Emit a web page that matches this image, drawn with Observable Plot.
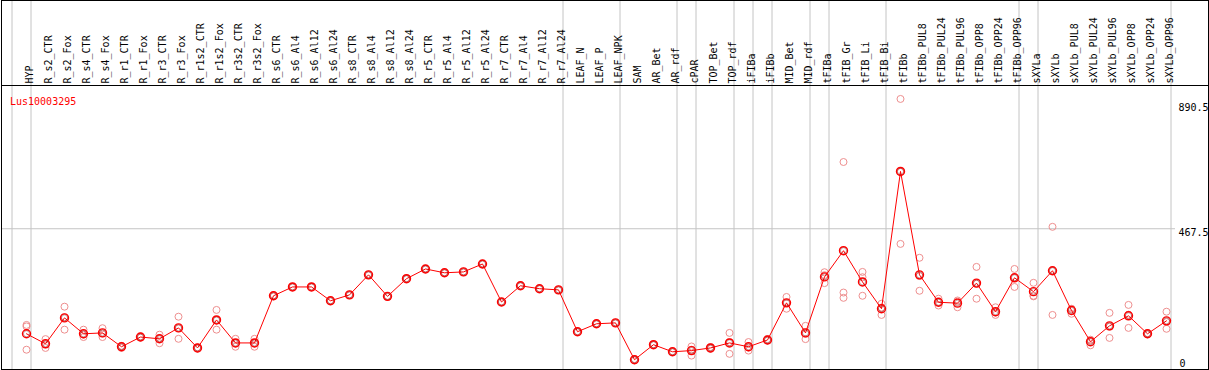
<!DOCTYPE html>
<html>
<head>
<meta charset="utf-8">
<script src="https://cdn.jsdelivr.net/npm/d3@7"></script>
<script src="https://cdn.jsdelivr.net/npm/@observablehq/plot@0.6"></script>
<style>
  html, body { margin: 0; padding: 0; background: #fff; }
  #chart svg { display: block; }
</style>
</head>
<body>
<div id="chart"></div>
<script>
const title = "Lus10003295";

const categories = [
  "HYP", "R_s2_CTR", "R_s2_Fox", "R_s4_CTR", "R_s4_Fox", "R_r1_CTR", "R_r1_Fox",
  "R_r3_CTR", "R_r3_Fox", "R_r1s2_CTR", "R_r1s2_Fox", "R_r3s2_CTR", "R_r3s2_Fox",
  "R_s6_CTR", "R_s6_Al4", "R_s6_Al12", "R_s6_Al24", "R_s8_CTR", "R_s8_Al4",
  "R_s8_Al12", "R_s8_Al24", "R_r5_CTR", "R_r5_Al4", "R_r5_Al12", "R_r5_Al24",
  "R_r7_CTR", "R_r7_Al4", "R_r7_Al12", "R_r7_Al24", "LEAF_N", "LEAF_P", "LEAF_NPK",
  "SAM", "AR_Bet", "AR_rdf", "cPAR", "TOP_Bet", "TOP_rdf", "iFIBa", "iFIBb",
  "MID_Bet", "MID_rdf", "tFIBa", "tFIB_Gr", "tFIB_Li", "tFIB_Bi", "tFIBb",
  "tFIBb_PUL8", "tFIBb_PUL24", "tFIBb_PUL96", "tFIBb_OPP8", "tFIBb_OPP24", "tFIBb_OPP96",
  "sXYLa", "sXYLb", "sXYLb_PUL8", "sXYLb_PUL24", "sXYLb_PUL96", "sXYLb_OPP8",
  "sXYLb_OPP24", "sXYLb_OPP96"
];

// sizes of the column groups separated by vertical grey lines
const groupSizes = [1, 28, 3, 3, 1, 2, 1, 1, 2, 1, 3, 7, 1, 7];

const means = [
  111, 77, 165, 111, 114, 67, 100, 94, 131, 63, 158, 80, 80,
  240, 270, 270, 223, 243, 311, 238, 298, 331, 318, 321, 348,
  219, 274, 264, 260, 118, 145, 148,
  23, 74, 50, 54, 63, 80, 67, 90, 216, 114, 304, 393, 287, 196,
  662, 311, 218, 215, 283, 186, 301,
  254, 325, 190, 84, 138, 172, 111, 155
];
const rep1 = [
  141, 93, 203, 125, 130, 70, 100, 108, 169, 63, 192, 94, 94,
  241, 271, 270, 224, 244, 312, 239, 299, 332, 319, 322, 349,
  220, 275, 265, 261, 119, 146, 149,
  25, 75, 51, 68, 66, 114, 83, 93, 236, 138, 320, 694, 321, 213,
  908, 369, 230, 224, 338, 201, 331,
  284, 474, 196, 91, 182, 209, 113, 186
];
const rep2 = [
  136, 63, 125, 100, 100, 63, 98, 79, 94, 61, 125, 67, 67,
  238, 269, 271, 222, 242, 310, 237, 297, 330, 317, 320, 347,
  218, 273, 263, 259, 117, 144, 147,
  21, 73, 49, 37, 60, 43, 54, 88, 196, 93, 283, 251, 303, 175,
  416, 257, 207, 201, 230, 175, 270,
  238, 175, 179, 72, 97, 131, 109, 128
];
const rep3 = [
  57, 75, 167, 108, 112, 68, 102, 95, 130, 65, 157, 79, 79,
  241, 270, 269, 223, 243, 311, 238, 298, 331, 318, 321, 348,
  219, 274, 264, 260, 118, 145, 148,
  23, 74, 50, 57, 63, 83, 64, 89, 216, 111, 310, 233, 240, 200,
  661, 307, 218, 220, 281, 183, 302,
  240, 325, 195, 89, 135, 176, 111, 151
];

const yTicks = [0, 467.5, 890.5];
const gridValues = [467.5];

const rows = categories.map((c, i) => ({i: i + 1, c, mean: means[i]}));
const repRows = categories.flatMap((c, i) => [rep1[i], rep2[i], rep3[i]].map(v => ({i: i + 1, v})));
const separators = [0, ...d3.cumsum(groupSizes)];

const font = "'DejaVu Sans Mono', monospace";

const chart = Plot.plot({
  width: 1209,
  height: 370,
  marginTop: 85,
  marginBottom: 1,
  marginLeft: 1,
  marginRight: 1,
  style: {fontFamily: font, fontSize: "10px", background: "#fff", color: "#000"},
  x: {type: "linear", domain: [1, categories.length], range: [26, 1166], axis: null},
  y: {type: "linear", domain: [0, 890.5], range: [366, 103.6], axis: null},
  marks: [
    Plot.ruleY(gridValues, {y: d => d, stroke: "#c4c4c4", strokeWidth: 1, insetRight: 33}),
    Plot.ruleX(separators, {x: d => d, dx: 4.5, stroke: "#c4c4c4", strokeWidth: 1, insetTop: -85}),
    Plot.frame({stroke: "#000", insetTop: -85}),
    Plot.frame({stroke: "#000"}),
    Plot.text(categories, {
      x: (d, i) => i + 1, text: d => d, frameAnchor: "top", dy: -2, dx: -1,
      rotate: -90, textAnchor: "start", fill: "#000", fontSize: 10, fontFamily: font
    }),
    Plot.text([title], {
      text: d => d, frameAnchor: "top-left", dx: 8.5, dy: 12, textAnchor: "start",
      fill: "red", fontSize: 10, fontFamily: font
    }),
    Plot.text(yTicks.filter(d => d > 0), {
      y: d => d, text: d => String(d), frameAnchor: "right", dx: -30,
      textAnchor: "start", lineAnchor: "top", fill: "#000", fontSize: 10, fontFamily: font
    }),
    Plot.text(yTicks.filter(d => d === 0), {
      y: d => d, text: d => String(d), frameAnchor: "right", dx: -29,
      textAnchor: "start", lineAnchor: "bottom", fill: "#000", fontSize: 10, fontFamily: font
    }),
    Plot.dot(repRows, {x: "i", y: "v", r: 3.5, stroke: "#ee8f8f", strokeWidth: 1, fill: "none"}),
    Plot.line(rows, {x: "i", y: "mean", stroke: "red", strokeWidth: 1}),
    Plot.dot(rows, {x: "i", y: "mean", r: 4, stroke: "red", strokeWidth: 1.4, fill: "none"}),
    Plot.dot(rows, {x: "i", y: "mean", r: 3, stroke: "#600", strokeWidth: 0.5, strokeOpacity: 0.7, fill: "none"})
  ]
});

document.getElementById("chart").appendChild(chart);
</script>
</body>
</html>
